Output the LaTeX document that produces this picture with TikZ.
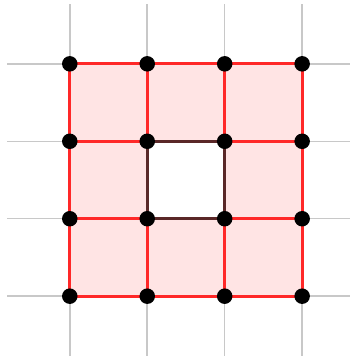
\documentclass[tikz,border=0pt]{standalone}
\usetikzlibrary{backgrounds}
\definecolor{gridgray}{RGB}{200,200,200}
\definecolor{cellfill}{RGB}{255,228,228}
\definecolor{edgered}{RGB}{255,40,40}
\definecolor{holeedge}{RGB}{90,40,40}
\begin{document}
\begin{tikzpicture}[
  dot/.style={circle,fill=black,inner sep=0pt,minimum size=5.7pt},
  gridline/.style={draw=gridgray,line width=0.55pt},
  rededge/.style={draw=edgered,line width=1.1pt},
  holeline/.style={draw=holeedge,line width=1.1pt}
]
\useasboundingbox (-0.901,-0.798) rectangle (3.618,3.824);
% grid lines
\foreach \i in {0,1,2,3}{
  \draw[gridline] (\i,-0.77) -- (\i,3.77);
  \draw[gridline] (-0.81,\i) -- (3.62,\i);
}
% fill of ring
\fill[cellfill,even odd rule] (0,0) rectangle (3,3) (1,1) rectangle (2,2);
% vertices
\foreach \i in {0,1,2,3}{
  \foreach \j in {0,1,2,3}{
    \coordinate (c-\i-\j) at (\i,\j);
  }
}
% red edges
\foreach \j in {0,1,2,3}{
  \draw[rededge] (c-0-\j) -- (c-1-\j);
  \draw[rededge] (c-2-\j) -- (c-3-\j);
  \draw[rededge] (c-\j-0) -- (c-\j-1);
  \draw[rededge] (c-\j-2) -- (c-\j-3);
}
\draw[rededge] (c-1-0) -- (c-2-0);
\draw[rededge] (c-1-3) -- (c-2-3);
\draw[rededge] (c-0-1) -- (c-0-2);
\draw[rededge] (c-3-1) -- (c-3-2);
% hole boundary
\draw[holeline] (c-1-1) -- (c-2-1) -- (c-2-2) -- (c-1-2) -- cycle;
% dots
\foreach \i in {0,1,2,3}{
  \foreach \j in {0,1,2,3}{
    \node[dot] (p-\i-\j) at (c-\i-\j) {};
  }
}
\end{tikzpicture}
\end{document}
